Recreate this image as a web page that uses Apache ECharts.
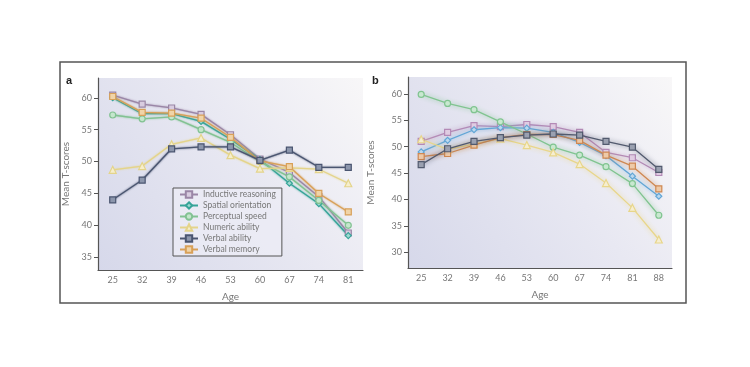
<!DOCTYPE html>
<html><head><meta charset="utf-8">
<script src="https://cdn.jsdelivr.net/npm/echarts@6/dist/echarts.min.js"></script>
<style>html,body{margin:0;padding:0;background:#fff}#c{width:750px;height:367px}</style>
</head><body><div id="c"></div>
<script>
var agesA = ['25','32','39','46','53','60','67','74','81'];
var agesB = ['25','32','39','46','53','60','67','74','81','88'];
var yTicksA = [35,40,45,50,55,60];
var yTicksB = [30,35,40,45,50,55,60];
var names = ['Inductive reasoning','Spatial orientation','Perceptual speed','Numeric ability','Verbal ability','Verbal memory'];

var inductiveA     = [60.4, 59.0, 58.4, 57.4, 54.2, 50.4, 48.3, 44.5, 38.8];
var spatialA       = [60.0, 57.5, 57.5, 56.3, 53.5, 50.3, 46.6, 43.4, 38.4];
var perceptualA    = [57.3, 56.7, 57.0, 55.0, 53.0, 50.0, 47.6, 43.9, 40.0];
var numericA       = [48.7, 49.3, 52.7, 53.7, 51.0, 48.9, 49.0, 48.8, 46.6];
var verbalAbilityA = [44.0, 47.1, 52.0, 52.3, 52.3, 50.2, 51.8, 49.1, 49.1];
var verbalMemoryA  = [60.2, 57.7, 57.6, 56.8, 53.8, 50.1, 49.2, 45.0, 42.1];

var inductiveB     = [51.0, 52.7, 54.0, 53.8, 54.2, 53.8, 52.7, 48.9, 47.9, 45.1];
var spatialB       = [49.0, 51.2, 53.2, 53.6, 53.5, 52.7, 50.8, 48.3, 44.4, 40.6];
var perceptualB    = [59.9, 58.2, 57.0, 54.7, 52.4, 49.9, 48.4, 46.2, 43.0, 37.0];
var numericB       = [51.4, 49.5, 50.5, 51.5, 50.3, 48.9, 46.7, 43.1, 38.4, 32.4];
var verbalAbilityB = [46.6, 49.6, 51.0, 51.7, 52.2, 52.4, 52.2, 51.0, 49.9, 45.7];
var verbalMemoryB  = [48.1, 48.7, 50.3, 51.7, 52.3, 52.3, 51.2, 48.4, 46.3, 42.0];

var dataA = [inductiveA, spatialA, perceptualA, numericA, verbalAbilityA, verbalMemoryA];
var dataB = [inductiveB, spatialB, perceptualB, numericB, verbalAbilityB, verbalMemoryB];
var symbols = ['rect','diamond','circle','triangle','rect','rect'];
var colorsA = ['#9a86a6','#36a498','#82c292','#e4d48a','#4a5570','#d8a058'];
var fillsA  = ['#d8cce0','#9fd8d0','#c4e6cc','#f6eecc','#8c96ac','#f0d4a8'];
var colorsB = ['#b48ab6','#62a6d6','#80c490','#e8d68a','#525a6e','#cf8852'];
var fillsB  = ['#e0cce2','#bcd8ee','#c8e8d0','#f6eed0','#9aa0b0','#eecaa8'];

var font = 'Lato, "Open Sans", sans-serif';
var series = [];
function addSeries(data, idx, colors, fills, isB) {
  for (var i = 0; i < names.length; i++) {
    series.push({
      type: 'line', name: names[i], xAxisIndex: idx, yAxisIndex: idx,
      data: data[i], symbol: symbols[i], symbolSize: symbols[i]==='triangle'?7:6,
      showSymbol: true,
      lineStyle: {color: colors[i], width: 1.3, shadowBlur: isB?5:2, shadowColor: colors[i]},
      itemStyle: {color: fills[i], borderColor: colors[i], borderWidth: 1.2},
      emphasis: {disabled: true}, z: 3 + (i===4?2:0)
    });
  }
}
addSeries(dataA, 0, colorsA, fillsA, false);
addSeries(dataB, 1, colorsB, fillsB, true);

function grad(){ return new echarts.graphic.LinearGradient(0,1,1,0,[{offset:0,color:'#d6d8ea'},{offset:0.55,color:'#e8e8f2'},{offset:1,color:'#f8f7f8'}]); }

var axisLine = {show:true, lineStyle:{color:'#555', width:1.2}};
var labelStyle = {color:'#777', fontSize:9, fontFamily: font};
var nameStyle = {color:'#777', fontSize:10, fontFamily: font};

var option = {
  animation: false,
  textStyle: {fontFamily: font},
  grid: [
    {left: 98, right: 387, top: 78, bottom: 97, show: true, backgroundColor: grad(), borderWidth: 0},
    {left: 408, right: 78, top: 77, bottom: 99, show: true, backgroundColor: grad(), borderWidth: 0}
  ],
  xAxis: [
    {type:'category', gridIndex:0, data: agesA, boundaryGap:true, axisLine: axisLine,
     axisTick:{alignWithLabel:true, length:4, lineStyle:{color:'#555'}}, axisLabel: Object.assign({margin:6}, labelStyle),
     name:'Age', nameLocation:'middle', nameGap:22, nameTextStyle: nameStyle, splitLine:{show:false}},
    {type:'category', gridIndex:1, data: agesB, boundaryGap:true, axisLine: axisLine,
     axisTick:{alignWithLabel:true, length:4, lineStyle:{color:'#555'}}, axisLabel: Object.assign({margin:6}, labelStyle),
     name:'Age', nameLocation:'middle', nameGap:22, nameTextStyle: nameStyle, splitLine:{show:false}}
  ],
  yAxis: [
    {type:'value', gridIndex:0, min:33, max:63.1, axisLine: axisLine,
     axisTick:{show:true, length:4, customValues: yTicksA, lineStyle:{color:'#555'}},
     axisLabel: Object.assign({margin:6, customValues: yTicksA}, labelStyle), splitLine:{show:false},
     name:'Mean T-scores', nameLocation:'middle', nameGap:27, nameTextStyle: nameStyle},
    {type:'value', gridIndex:1, min:27, max:63.2, axisLine: axisLine,
     axisTick:{show:true, length:4, customValues: yTicksB, lineStyle:{color:'#555'}},
     axisLabel: Object.assign({margin:6, customValues: yTicksB}, labelStyle), splitLine:{show:false},
     name:'Mean T-scores', nameLocation:'middle', nameGap:32, nameTextStyle: nameStyle}
  ],
  legend: {
    data: names, orient:'vertical', left:173, top:188, itemGap:2, itemWidth:18, itemHeight:8,
    padding:[2,6], backgroundColor:'rgba(236,236,246,0.75)', borderColor:'#555', borderWidth:1,
    borderRadius:0, textStyle:{color:'#777', fontSize:8.5, fontFamily: font}, selectedMode:false
  },
  graphic: [
    {type:'rect', shape:{x:60, y:62, width:626, height:241}, style:{fill:'none', stroke:'#555', lineWidth:1.5}, silent:true},
    {type:'text', left:66, top:75, style:{text:'a', font:'bold 11px Arial, sans-serif', fill:'#222'}},
    {type:'text', left:372, top:75, style:{text:'b', font:'bold 11px Arial, sans-serif', fill:'#222'}}
  ],
  series: series
};
var chart = echarts.init(document.getElementById('c'), null, {renderer:'canvas'});
chart.setOption(option);
</script></body></html>
